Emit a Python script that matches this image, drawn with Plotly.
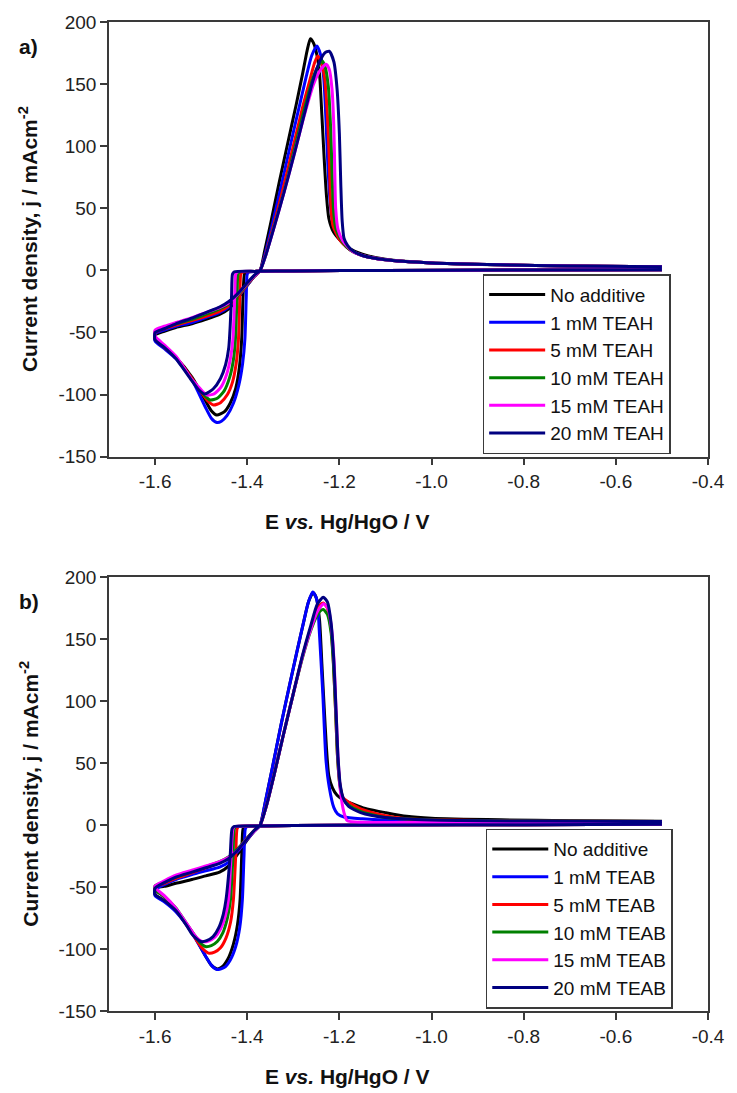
import plotly.graph_objects as go

# ---------------- tick labels ----------------
X_TICKS = [-1.6, -1.4, -1.2, -1.0, -0.8, -0.6, -0.4]
X_TICK_LABELS = ["-1.6", "-1.4", "-1.2", "-1.0", "-0.8", "-0.6", "-0.4"]
Y_TICKS = [-150, -100, -50, 0, 50, 100, 150, 200]
Y_TICK_LABELS = ["-150", "-100", "-50", "0", "50", "100", "150", "200"]

NAMES_A = ["No additive", "1 mM TEAH", "5 mM TEAH", "10 mM TEAH", "15 mM TEAH", "20 mM TEAH"]
NAMES_B = ["No additive", "1 mM TEAB", "5 mM TEAB", "10 mM TEAB", "15 mM TEAB", "20 mM TEAB"]
COLORS = ["#000000", "#0000FF", "#FF0000", "#008000", "#FF00FF", "#000080"]

# ---------------- panel a (TEAH) ----------------
A0_E = [-0.50, -0.80, -1.10, -1.30, -1.38, -1.402, -1.406, -1.409, -1.412, -1.417, -1.425, -1.437, -1.450, -1.466, -1.478, -1.492, -1.520, -1.555, -1.580, -1.600,
        -1.600, -1.580, -1.555, -1.520, -1.490, -1.460, -1.440, -1.420, -1.400, -1.385, -1.372, -1.362, -1.348, -1.330, -1.310, -1.294, -1.280, -1.270, -1.263, -1.256, -1.248, -1.243, -1.238, -1.233, -1.228, -1.223, -1.213, -1.198, -1.180, -1.150, -1.100, -1.000, -0.850, -0.700, -0.500]
A0_J = [0.6, 0.3, 0.0, -0.4, -0.8, -1.2, -3, -20, -55, -78, -95, -107, -114, -116.5, -113, -104, -86, -70, -62, -56,
        -52, -49, -46, -43, -39.5, -35.5, -31, -22, -12, -5, 0, 16, 40, 72, 106, 133, 158, 177, 186.5, 183, 172, 158, 125, 90, 60, 42, 31, 24, 18, 13, 9, 6, 4.5, 3.5, 3.0]

A1_E = [-0.50, -0.80, -1.10, -1.30, -1.38, -1.396, -1.400, -1.402, -1.405, -1.410, -1.418, -1.430, -1.444, -1.456, -1.466, -1.478, -1.491, -1.520, -1.555, -1.580, -1.600,
        -1.600, -1.580, -1.555, -1.520, -1.490, -1.460, -1.440, -1.420, -1.400, -1.385, -1.372, -1.360, -1.345, -1.325, -1.305, -1.287, -1.272, -1.260, -1.249, -1.241, -1.234, -1.229, -1.225, -1.220, -1.214, -1.204, -1.190, -1.175, -1.150, -1.100, -1.000, -0.850, -0.700, -0.500]
A1_J = [0.6, 0.3, 0.0, -0.4, -0.8, -1.2, -3, -20, -55, -75, -92, -107, -117, -121.5, -122.5, -119, -110, -88, -71, -63, -57,
        -51, -48, -45, -42, -38, -34, -29.5, -21.5, -12, -5, 0, 15, 38, 70, 103, 132, 156, 173, 180.7, 174, 155, 120, 85, 55, 38, 28, 21, 16, 12, 8.5, 6, 4.5, 3.5, 3.0]

A2_E = [-0.50, -0.80, -1.10, -1.30, -1.38, -1.410, -1.414, -1.416, -1.419, -1.424, -1.432, -1.443, -1.458, -1.473, -1.486, -1.500, -1.520, -1.555, -1.580, -1.600,
        -1.600, -1.580, -1.555, -1.520, -1.490, -1.460, -1.440, -1.420, -1.400, -1.385, -1.372, -1.360, -1.343, -1.322, -1.300, -1.280, -1.265, -1.254, -1.247, -1.240, -1.232, -1.226, -1.222, -1.219, -1.214, -1.200, -1.185, -1.170, -1.150, -1.100, -1.000, -0.850, -0.700, -0.500]
A2_J = [0.6, 0.3, 0.0, -0.4, -0.8, -1.2, -3, -20, -55, -75, -90, -100, -106.5, -108.4, -105, -98, -87, -70, -62, -55,
        -50, -47, -44, -40.5, -37, -33, -28.5, -21, -11.5, -5, 0, 13, 36, 66, 100, 131, 152, 167, 172.7, 168, 155, 125, 90, 55, 36, 25, 19, 15, 12, 8.5, 6, 4.5, 3.5, 3.0]

A3_E = [-0.50, -0.80, -1.10, -1.30, -1.38, -1.416, -1.420, -1.422, -1.4256, -1.430, -1.438, -1.450, -1.465, -1.480, -1.492, -1.505, -1.520, -1.555, -1.580, -1.600,
        -1.600, -1.580, -1.555, -1.520, -1.490, -1.460, -1.440, -1.420, -1.400, -1.385, -1.372, -1.360, -1.343, -1.320, -1.298, -1.278, -1.260, -1.247, -1.238, -1.231, -1.224, -1.219, -1.216, -1.213, -1.208, -1.197, -1.185, -1.170, -1.150, -1.100, -1.000, -0.850, -0.700, -0.500]
A3_J = [0.6, 0.3, 0.0, -0.4, -0.8, -1.2, -3, -20, -55, -72, -86, -97, -103, -104.4, -101, -95, -88, -70, -61, -54,
        -49, -46, -43, -39.5, -35.5, -31, -27, -20, -11, -4.5, 0, 12, 34, 64, 97, 127, 152, 164, 168.7, 164, 148, 115, 80, 50, 34, 25, 19, 15, 12, 8.5, 6, 4.5, 3.5, 3.0]

A4_E = [-0.50, -0.80, -1.10, -1.30, -1.38, -1.421, -1.425, -1.427, -1.431, -1.436, -1.445, -1.457, -1.472, -1.487, -1.498, -1.510, -1.520, -1.555, -1.580, -1.600,
        -1.600, -1.580, -1.555, -1.520, -1.490, -1.460, -1.440, -1.420, -1.400, -1.385, -1.372, -1.360, -1.343, -1.320, -1.297, -1.276, -1.256, -1.240, -1.229, -1.222, -1.216, -1.212, -1.210, -1.208, -1.203, -1.193, -1.182, -1.170, -1.150, -1.100, -1.000, -0.850, -0.700, -0.500]
A4_J = [0.6, 0.3, 0.0, -0.4, -0.8, -1.2, -3, -20, -55, -70, -84, -94, -99.5, -100.4, -97, -92, -88, -69, -60, -53,
        -48, -45, -42, -38, -34, -30, -26, -19, -10.5, -4.5, 0, 12, 33, 63, 95, 125, 150, 162, 166, 162, 146, 115, 80, 50, 33, 24, 19, 15, 12, 8.5, 6, 4.5, 3.5, 3.0]

A5_E = [-0.50, -0.80, -1.10, -1.30, -1.38, -1.428, -1.432, -1.434, -1.437, -1.440, -1.447, -1.458, -1.474, -1.492, -1.503, -1.512, -1.520, -1.555, -1.580, -1.600,
        -1.600, -1.580, -1.555, -1.520, -1.490, -1.460, -1.440, -1.420, -1.400, -1.385, -1.372, -1.360, -1.343, -1.320, -1.297, -1.276, -1.258, -1.243, -1.232, -1.222, -1.212, -1.205, -1.200, -1.197, -1.194, -1.190, -1.182, -1.170, -1.150, -1.100, -1.000, -0.850, -0.700, -0.500]
A5_J = [0.6, 0.3, 0.0, -0.4, -0.8, -1.2, -3, -20, -45, -62, -76, -87, -95.5, -99.6, -97, -93, -89, -71, -62, -56,
        -50, -47, -43, -38.5, -34, -29.5, -25, -18.5, -10, -4, 0, 12, 33, 63, 95, 126, 152, 168, 175, 176.5, 168, 146, 110, 70, 40, 26, 20, 15.5, 12, 8.5, 6, 4.5, 3.5, 3.0]

# ---------------- panel b (TEAB) ----------------
B0_E = [-0.50, -0.80, -1.10, -1.30, -1.38, -1.405, -1.409, -1.412, -1.4155, -1.421, -1.430, -1.442, -1.455, -1.466, -1.478, -1.490, -1.520, -1.555, -1.580, -1.600,
        -1.600, -1.580, -1.555, -1.520, -1.490, -1.460, -1.440, -1.420, -1.400, -1.385, -1.372, -1.360, -1.345, -1.326, -1.308, -1.292, -1.278, -1.267, -1.257, -1.250, -1.243, -1.238, -1.233, -1.228, -1.223, -1.215, -1.205, -1.190, -1.160, -1.140, -1.100, -1.054, -1.000, -0.850, -0.700, -0.500]
B0_J = [0.6, 0.3, 0.0, -0.4, -0.8, -1.2, -3, -25, -60, -80, -96, -108, -114.5, -116, -113, -106, -86, -69, -61, -56,
        -51, -49.5, -47, -44, -41, -38, -33, -23, -12, -5, 0, 20, 47, 82, 113, 140, 163, 180, 187.5, 183, 165, 130, 95, 62, 40, 30, 24, 20, 15.5, 13, 10, 7, 5.5, 4.2, 3.5, 3.0]

B1_E = [-0.50, -0.80, -1.10, -1.30, -1.38, -1.400, -1.404, -1.407, -1.4105, -1.416, -1.425, -1.437, -1.450, -1.466, -1.478, -1.490, -1.520, -1.555, -1.580, -1.600,
        -1.600, -1.580, -1.555, -1.520, -1.490, -1.460, -1.440, -1.420, -1.400, -1.385, -1.372, -1.360, -1.345, -1.326, -1.308, -1.292, -1.278, -1.267, -1.258, -1.251, -1.247, -1.244, -1.236, -1.229, -1.222, -1.212, -1.204, -1.190, -1.150, -1.100, -1.000, -0.800, -0.500]
B1_J = [0.6, 0.3, 0.0, -0.4, -0.8, -1.2, -3, -25, -60, -82, -98, -109, -115, -116.5, -113, -106, -87, -70, -62, -57,
        -52, -48, -44, -40, -37, -34, -30, -21, -11.5, -5, 0, 20, 47, 82, 113, 140, 163, 180, 188, 184, 178, 159, 106, 52, 30.5, 14, 9, 6.5, 5, 4, 3.5, 3.0, 2.5]

B2_E = [-0.50, -0.80, -1.10, -1.30, -1.38, -1.418, -1.422, -1.425, -1.430, -1.436, -1.446, -1.458, -1.471, -1.484, -1.496, -1.508, -1.520, -1.555, -1.580, -1.600,
        -1.600, -1.580, -1.555, -1.520, -1.490, -1.460, -1.440, -1.420, -1.400, -1.385, -1.372, -1.358, -1.342, -1.322, -1.300, -1.280, -1.262, -1.250, -1.243, -1.235, -1.226, -1.218, -1.213, -1.208, -1.204, -1.199, -1.192, -1.180, -1.154, -1.100, -1.054, -1.000, -0.800, -0.500]
B2_J = [0.6, 0.3, 0.0, -0.4, -0.8, -1.2, -3, -25, -60, -78, -91, -99, -102.5, -103.3, -100, -94, -87, -68, -58, -52,
        -50, -47, -43, -38.5, -34.5, -30.5, -26.5, -19.5, -10.5, -4.5, 0, 16, 40, 72, 106, 136, 159, 172, 177, 179, 175, 158, 132, 90, 55, 33, 22, 18.5, 13, 7.5, 5, 4.2, 3.3, 2.8]

B3_E = [-0.50, -0.80, -1.10, -1.30, -1.38, -1.424, -1.428, -1.431, -1.4363, -1.443, -1.453, -1.465, -1.478, -1.491, -1.502, -1.512, -1.520, -1.555, -1.580, -1.600,
        -1.600, -1.580, -1.555, -1.520, -1.490, -1.460, -1.440, -1.420, -1.400, -1.385, -1.372, -1.358, -1.342, -1.322, -1.300, -1.280, -1.262, -1.250, -1.242, -1.235, -1.226, -1.218, -1.213, -1.208, -1.204, -1.199, -1.192, -1.180, -1.154, -1.100, -1.000, -0.800, -0.500]
B3_J = [0.6, 0.3, 0.0, -0.4, -0.8, -1.2, -3, -25, -60, -75, -87, -94, -97.3, -98, -95, -90, -86, -67, -58, -52,
        -49, -46, -42, -37.5, -33.5, -29.5, -25.5, -19, -10.5, -4.5, 0, 16, 40, 72, 106, 135, 157, 168, 172.5, 173.8, 170, 155, 130, 90, 55, 32, 21, 16, 11, 6, 4, 3.2, 2.8]

B4_E = [-0.50, -0.80, -1.10, -1.30, -1.38, -1.427, -1.431, -1.435, -1.4406, -1.448, -1.458, -1.470, -1.484, -1.498, -1.508, -1.516, -1.525, -1.555, -1.580, -1.600,
        -1.600, -1.580, -1.555, -1.520, -1.490, -1.460, -1.440, -1.420, -1.405, -1.385, -1.372, -1.358, -1.342, -1.322, -1.300, -1.280, -1.262, -1.248, -1.234, -1.224, -1.216, -1.211, -1.207, -1.203, -1.198, -1.190, -1.183, -1.150, -1.000, -0.800, -0.500]
B4_J = [0.6, 0.3, 0.0, -0.4, -0.8, -1.2, -3, -25, -60, -74, -84, -90.5, -93.5, -94, -91.5, -88, -83, -67, -57, -50.5,
        -49, -45, -40.5, -36.5, -33, -29.5, -26, -20, -13, -5, 0, 16, 40, 72, 106, 136, 158, 172, 178.5, 174, 155, 128, 90, 55, 28, 10, 3.5, 2.2, 2.3, 2.4, 2.5]

B5_E = [-0.50, -0.80, -1.10, -1.30, -1.38, -1.429, -1.433, -1.437, -1.446, -1.452, -1.462, -1.474, -1.488, -1.501, -1.511, -1.520, -1.530, -1.555, -1.580, -1.600,
        -1.600, -1.580, -1.555, -1.520, -1.490, -1.460, -1.440, -1.420, -1.400, -1.385, -1.372, -1.358, -1.342, -1.322, -1.300, -1.280, -1.262, -1.248, -1.235, -1.226, -1.218, -1.212, -1.207, -1.203, -1.198, -1.191, -1.180, -1.154, -1.100, -1.000, -0.800, -0.500]
B5_J = [0.6, 0.3, 0.0, -0.4, -0.8, -1.2, -3, -25, -60, -72, -83, -90, -93.3, -94, -91.5, -88, -82, -69, -61, -56,
        -51, -46.5, -42, -38, -34.5, -31, -27, -20, -11, -4.5, 0, 16, 40, 72, 106, 137, 161, 178, 183.7, 180, 163, 132, 90, 55, 32, 21, 15, 10, 6, 4, 3.2, 2.8]

PANEL_A = [(A0_E, A0_J), (A1_E, A1_J), (A2_E, A2_J), (A3_E, A3_J), (A4_E, A4_J), (A5_E, A5_J)]
PANEL_B = [(B0_E, B0_J), (B1_E, B1_J), (B2_E, B2_J), (B3_E, B3_J), (B4_E, B4_J), (B5_E, B5_J)]

FONT = "Liberation Sans, Arial, sans-serif"
AXCOL = "#3a3a3a"

fig = go.Figure()
for (e, j), name, col in zip(PANEL_A, NAMES_A, COLORS):
    fig.add_trace(go.Scatter(x=e, y=j, mode="lines", name=name,
                             line=dict(color=col, width=3, shape="spline", smoothing=0.6),
                             xaxis="x", yaxis="y", legend="legend"))
for (e, j), name, col in zip(PANEL_B, NAMES_B, COLORS):
    fig.add_trace(go.Scatter(x=e, y=j, mode="lines", name=name,
                             line=dict(color=col, width=3, shape="spline", smoothing=0.6),
                             xaxis="x2", yaxis="y2", legend="legend2"))

def xax(anchor):
    return dict(range=[-1.7, -0.4], domain=[0, 1], anchor=anchor, showgrid=False, zeroline=False,
                showline=True, linecolor=AXCOL, linewidth=1.5, mirror=True,
                ticks="outside", ticklen=7, tickwidth=1.5, tickcolor=AXCOL,
                tickvals=X_TICKS, ticktext=X_TICK_LABELS,
                tickfont=dict(family=FONT, size=19, color="#222222"))

def yax(anchor, domain):
    return dict(range=[-150, 200], domain=domain, anchor=anchor, showgrid=False, zeroline=False,
                showline=True, linecolor=AXCOL, linewidth=1.5, mirror=True,
                ticks="outside", ticklen=7, tickwidth=1.5, tickcolor=AXCOL,
                tickvals=Y_TICKS, ticktext=Y_TICK_LABELS,
                tickfont=dict(family=FONT, size=19, color="#222222"))

DOM_A = [0.5605, 1.0]
DOM_B = [0.0, 0.4388]

legend_common = dict(font=dict(family=FONT, size=19, color="#111111"), bgcolor="white",
                     bordercolor=AXCOL, borderwidth=1.5, xanchor="left", yanchor="top",
                     itemwidth=56, tracegroupgap=0)

ytitle = "<b>Current density, j / mAcm<sup>-2</sup></b>"
xtitle = "<b>E <i>vs.</i> Hg/HgO / V</b>"
TFONT = dict(family=FONT, size=21, color="#111111")

fig.update_layout(
    width=737, height=1093,
    margin=dict(l=109, r=22, t=19, b=82),
    paper_bgcolor="white", plot_bgcolor="white",
    xaxis=xax("y"), yaxis=yax("x", DOM_A),
    xaxis2=xax("y2"), yaxis2=yax("x2", DOM_B),
    legend=dict(x=0.6238, y=0.745, **legend_common),
    legend2=dict(x=0.629, y=0.1844, **legend_common),
    annotations=[
        dict(text=ytitle, xref="paper", yref="paper", x=-0.134, y=(DOM_A[0] + DOM_A[1]) / 2,
             textangle=-90, showarrow=False, xanchor="center", yanchor="middle", font=TFONT),
        dict(text=ytitle, xref="paper", yref="paper", x=-0.134, y=(DOM_B[0] + DOM_B[1]) / 2,
             textangle=-90, showarrow=False, xanchor="center", yanchor="middle", font=TFONT),
        dict(text=xtitle, xref="paper", yref="paper", x=0.398, y=DOM_A[0] - 0.066,
             showarrow=False, xanchor="center", yanchor="middle", font=TFONT),
        dict(text=xtitle, xref="paper", yref="paper", x=0.398, y=DOM_B[0] - 0.066,
             showarrow=False, xanchor="center", yanchor="middle", font=TFONT),
        dict(text="<b>a)</b>", xref="paper", yref="paper", x=-0.134, y=1 - 0.025,
             showarrow=False, xanchor="center", yanchor="middle", font=TFONT),
        dict(text="<b>b)</b>", xref="paper", yref="paper", x=-0.134, y=DOM_B[1] - 0.025,
             showarrow=False, xanchor="center", yanchor="middle", font=TFONT),
    ],
)

fig.write_html("out.html")
